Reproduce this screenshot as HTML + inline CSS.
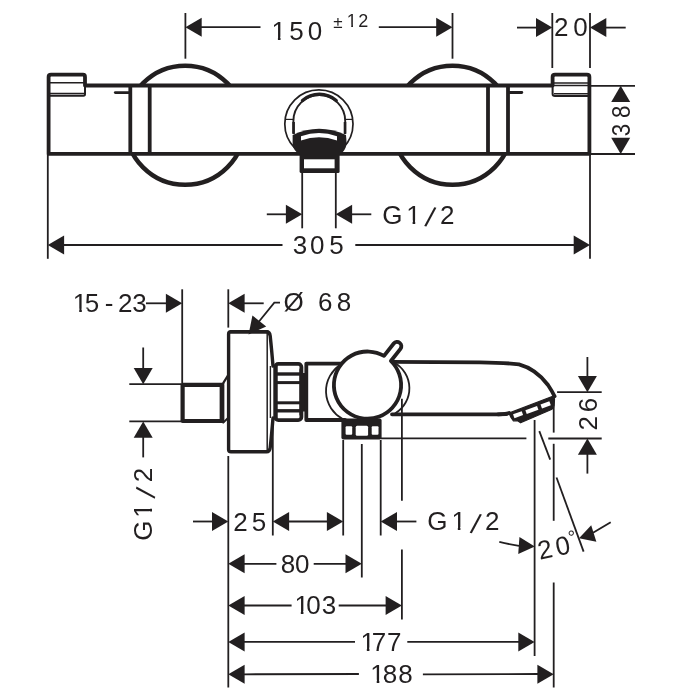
<!DOCTYPE html>
<html lang="en">
<head>
<meta charset="utf-8">
<title>Dimension drawing</title>
<style>
html,body{margin:0;padding:0;background:#fff;}
body{width:700px;height:700px;overflow:hidden;}
svg{display:block;will-change:transform;}
text{font-family:"Liberation Sans",sans-serif;fill:#221f20;}
</style>
</head>
<body>
<svg width="700" height="700" viewBox="0 0 700 700">
<rect width="700" height="700" fill="#fff"/>
<circle cx="185.2" cy="125.25" r="59.6" fill="none" stroke="#221f20" stroke-width="4.5"/>
<circle cx="452.5" cy="125.25" r="59.6" fill="none" stroke="#221f20" stroke-width="4.5"/>
<path d="M48.6,153.9 L48.6,77 Q48.6,74.7 51,74.7 L83,74.7 Q85,74.7 85,77 L85,85.5 L552.6,85.5 L552.6,77 Q552.6,74.7 555,74.7 L587,74.7 Q589.4,74.7 589.4,77 L589.4,153.9 Z" fill="#fff" stroke="#221f20" stroke-width="3.8" stroke-linejoin="round"/>
<line x1="50" y1="82.7" x2="85" y2="82.7" stroke="#221f20" stroke-width="1.5" stroke-linecap="butt"/>
<line x1="50" y1="93.6" x2="84" y2="93.6" stroke="#221f20" stroke-width="1.5" stroke-linecap="butt"/>
<path d="M50,95.8 L83.5,95.8 Q85,95.8 85,94 L85,86" fill="none" stroke="#221f20" stroke-width="2" stroke-linejoin="round" stroke-linecap="round"/>
<line x1="553" y1="83" x2="589" y2="83" stroke="#221f20" stroke-width="1.5" stroke-linecap="butt"/>
<line x1="553" y1="85.6" x2="589" y2="85.6" stroke="#221f20" stroke-width="1.5" stroke-linecap="butt"/>
<line x1="554" y1="93.8" x2="589" y2="93.8" stroke="#221f20" stroke-width="1.5" stroke-linecap="butt"/>
<path d="M552.6,86 L552.6,94 Q552.6,96 555,96 L589,96" fill="none" stroke="#221f20" stroke-width="2" stroke-linejoin="round" stroke-linecap="round"/>
<line x1="130.3" y1="85.5" x2="130.3" y2="153.9" stroke="#221f20" stroke-width="3.8" stroke-linecap="butt"/>
<line x1="149.7" y1="85.5" x2="149.7" y2="153.9" stroke="#221f20" stroke-width="3.8" stroke-linecap="butt"/>
<line x1="488" y1="85.5" x2="488" y2="153.9" stroke="#221f20" stroke-width="3.8" stroke-linecap="butt"/>
<line x1="508" y1="85.5" x2="508" y2="153.9" stroke="#221f20" stroke-width="3.8" stroke-linecap="butt"/>
<line x1="115.3" y1="92.6" x2="129" y2="92.6" stroke="#221f20" stroke-width="2.8" stroke-linecap="round"/>
<line x1="509.5" y1="92.5" x2="521.8" y2="92.5" stroke="#221f20" stroke-width="2.8" stroke-linecap="round"/>
<circle cx="318.9" cy="124" r="34.1" fill="none" stroke="#221f20" stroke-width="1.7"/>
<path d="M293.4,133 L293.4,121 A25.9,25.9 0 0 1 345.2,121 L345.2,133" fill="none" stroke="#221f20" stroke-width="1.9" stroke-linejoin="round" stroke-linecap="butt"/>
<path d="M302.5,100.5 A26,26 0 0 1 336.2,100.5" fill="none" stroke="#221f20" stroke-width="3.4" stroke-linejoin="round" stroke-linecap="round"/>
<line x1="293.6" y1="122" x2="293.6" y2="134" stroke="#221f20" stroke-width="2.6" stroke-linecap="butt"/>
<line x1="345" y1="122" x2="345" y2="134" stroke="#221f20" stroke-width="2.6" stroke-linecap="butt"/>
<line x1="285" y1="119.4" x2="293" y2="119.4" stroke="#221f20" stroke-width="1.2" stroke-linecap="butt"/>
<line x1="345.5" y1="119.4" x2="353" y2="119.4" stroke="#221f20" stroke-width="1.2" stroke-linecap="butt"/>
<path d="M292.6,135 Q319,122.5 346,135 L346.6,143 Q346,150.5 339.5,155 L300,155 Q293,150.5 292.6,143 Z" fill="#221f20"/>
<path d="M301,136.3 Q319,129.8 337,136.3 L337,140.6 Q319,134 301,140.6 Z" fill="#fff"/>
<rect x="299.6" y="154" width="40" height="19" rx="1.5" fill="#221f20"/>
<rect x="304" y="159.3" width="30.6" height="9" fill="#fff"/>
<line x1="185.4" y1="13" x2="185.4" y2="58.7" stroke="#221f20" stroke-width="1.8" stroke-linecap="butt"/>
<line x1="452.5" y1="13" x2="452.5" y2="58.7" stroke="#221f20" stroke-width="1.8" stroke-linecap="butt"/>
<polygon points="0,0 -16.3,-9.5 -16.3,9.5" fill="#221f20" transform="translate(185.4 27.2) rotate(180)"/>
<line x1="201" y1="27.2" x2="260.5" y2="27.2" stroke="#221f20" stroke-width="1.8" stroke-linecap="butt"/>
<polygon points="0,0 -16.3,-9.5 -16.3,9.5" fill="#221f20" transform="translate(452.5 27.2) rotate(0)"/>
<line x1="378.8" y1="27.2" x2="437" y2="27.2" stroke="#221f20" stroke-width="1.8" stroke-linecap="butt"/>
<clipPath id="c1"><rect x="-2000" y="-2000" width="4000" height="2036.75"/><rect x="-2000" y="36.25" width="2271.03" height="40"/><rect x="277.92" y="36.25" width="2.6" height="40"/><rect x="286.11" y="36.25" width="1713.89" height="40"/></clipPath>
<text x="271.55 289.3 307.67" y="40" font-size="26.0" clip-path="url(#c1)">150</text>
<clipPath id="c2"><rect x="-2000" y="-2000" width="4000" height="2024.75"/><rect x="-2000" y="24.25" width="2346.44" height="40"/><rect x="351.21" y="24.25" width="1.8" height="40"/><rect x="356.88" y="24.25" width="1643.12" height="40"/></clipPath>
<text x="333.18 346.8 358.36" y="28 27.4 27.4" font-size="18" clip-path="url(#c2)"><tspan font-size="17">±</tspan>12</text>
<line x1="552.3" y1="13" x2="552.3" y2="68" stroke="#221f20" stroke-width="1.8" stroke-linecap="butt"/>
<line x1="590" y1="13" x2="590" y2="68" stroke="#221f20" stroke-width="1.8" stroke-linecap="butt"/>
<polygon points="0,0 -16.3,-9.5 -16.3,9.5" fill="#221f20" transform="translate(552.3 27.6) rotate(0)"/>
<line x1="517" y1="27.6" x2="537" y2="27.6" stroke="#221f20" stroke-width="1.8" stroke-linecap="butt"/>
<polygon points="0,0 -16.3,-9.5 -16.3,9.5" fill="#221f20" transform="translate(590 27.6) rotate(180)"/>
<line x1="605.5" y1="27.6" x2="625.7" y2="27.6" stroke="#221f20" stroke-width="1.8" stroke-linecap="butt"/>
<text x="554.02 573.22" y="35.8" font-size="26.0">20</text>
<line x1="590" y1="85.8" x2="635" y2="85.8" stroke="#221f20" stroke-width="1.8" stroke-linecap="butt"/>
<line x1="590" y1="154" x2="635" y2="154" stroke="#221f20" stroke-width="1.8" stroke-linecap="butt"/>
<polygon points="0,0 -16.3,-9.5 -16.3,9.5" fill="#221f20" transform="translate(620.7 85.8) rotate(-90)"/>
<polygon points="0,0 -16.3,-9.5 -16.3,9.5" fill="#221f20" transform="translate(620.7 154) rotate(90)"/>
<text transform="translate(630.2 0) rotate(-90) scale(0.86 1)" x="-158.55 -137.15" y="0" font-size="26.0">38</text>
<line x1="47.8" y1="154" x2="47.8" y2="258.8" stroke="#221f20" stroke-width="1.8" stroke-linecap="butt"/>
<line x1="590" y1="154" x2="590" y2="258.8" stroke="#221f20" stroke-width="1.8" stroke-linecap="butt"/>
<polygon points="0,0 -16.3,-9.5 -16.3,9.5" fill="#221f20" transform="translate(47.8 245) rotate(180)"/>
<line x1="63" y1="245" x2="282.5" y2="245" stroke="#221f20" stroke-width="1.8" stroke-linecap="butt"/>
<polygon points="0,0 -16.3,-9.5 -16.3,9.5" fill="#221f20" transform="translate(590 245) rotate(0)"/>
<line x1="355.3" y1="245" x2="575" y2="245" stroke="#221f20" stroke-width="1.8" stroke-linecap="butt"/>
<text x="292.85 310.02 329.35" y="254" font-size="26.0">305</text>
<line x1="302.2" y1="172" x2="302.2" y2="228.3" stroke="#221f20" stroke-width="1.8" stroke-linecap="butt"/>
<line x1="335.8" y1="172" x2="335.8" y2="228.3" stroke="#221f20" stroke-width="1.8" stroke-linecap="butt"/>
<polygon points="0,0 -16.3,-9.5 -16.3,9.5" fill="#221f20" transform="translate(302.2 214.3) rotate(0)"/>
<line x1="266.8" y1="214.3" x2="287" y2="214.3" stroke="#221f20" stroke-width="1.8" stroke-linecap="butt"/>
<polygon points="0,0 -16.3,-9.5 -16.3,9.5" fill="#221f20" transform="translate(335.8 214.3) rotate(180)"/>
<line x1="351" y1="214.3" x2="371.3" y2="214.3" stroke="#221f20" stroke-width="1.8" stroke-linecap="butt"/>
<clipPath id="c3"><rect x="-2000" y="-2000" width="4000" height="2220.25"/><rect x="-2000" y="219.75" width="2405.73" height="40"/><rect x="412.62" y="219.75" width="2.6" height="40"/><rect x="420.81" y="219.75" width="1579.19" height="40"/></clipPath>
<text x="382.25 406.25 424.15 439.92" y="223.5 223.5 225.7 223.5" font-size="26.0" clip-path="url(#c3)">G1<tspan rotate="13" font-size="28">/</tspan>2</text>
<path d="M222,384.8 L182.6,384.8 L182.6,421 L222,421 Z" fill="#fff" stroke="#221f20" stroke-width="4.2" stroke-linejoin="round" stroke-linecap="round"/>
<line x1="222" y1="383" x2="222" y2="423" stroke="#221f20" stroke-width="4.6" stroke-linecap="butt"/>
<path d="M223.2,383.2 L228.2,375.2" fill="none" stroke="#221f20" stroke-width="2.2" stroke-linejoin="round" stroke-linecap="round"/>
<path d="M223.2,422.6 L227.5,418.5" fill="none" stroke="#221f20" stroke-width="2" stroke-linejoin="round" stroke-linecap="round"/>
<rect x="229" y="332" width="40" height="119.6" fill="#fff"/>
<path d="M273,366 Q271.6,349 270.2,336 Q269.8,331.8 266.5,331.8 L231,331.8 Q228.6,331.8 228.6,334 L228.6,449.5 Q228.6,451.8 231,451.8 L266.5,451.8 Q269.8,451.8 270.2,447.6 Q271.6,435 273,418" fill="none" stroke="#221f20" stroke-width="3.4" stroke-linejoin="round" stroke-linecap="round"/>
<line x1="267.2" y1="333" x2="267.2" y2="450.5" stroke="#221f20" stroke-width="1.5" stroke-linecap="butt"/>
<line x1="270.4" y1="366" x2="270.4" y2="418" stroke="#221f20" stroke-width="1.4" stroke-linecap="butt"/>
<rect x="275.2" y="363.8" width="26.2" height="56.4" rx="3.2" fill="#fff" stroke="#221f20" stroke-width="3.8"/>
<line x1="276.5" y1="374" x2="300.5" y2="374" stroke="#221f20" stroke-width="3.4" stroke-linecap="butt"/>
<line x1="276.5" y1="382.6" x2="300.5" y2="382.6" stroke="#221f20" stroke-width="3" stroke-linecap="butt"/>
<line x1="276.5" y1="402.8" x2="300.5" y2="402.8" stroke="#221f20" stroke-width="3" stroke-linecap="butt"/>
<line x1="276.5" y1="410.8" x2="300.5" y2="410.8" stroke="#221f20" stroke-width="3.4" stroke-linecap="butt"/>
<line x1="276" y1="366" x2="276" y2="418" stroke="#221f20" stroke-width="3.4" stroke-linecap="butt"/>
<path d="M299.4,368 Q300.4,372 301.6,373 L305,373 L305,411.5 L301.6,411.5 Q300.4,412.5 299.4,416 Z" fill="#221f20"/>
<path d="M343,363.6 L306.3,363.6 L306.3,420 L345,420" fill="none" stroke="#221f20" stroke-width="3.8" stroke-linejoin="round" stroke-linecap="round"/>
<path d="M391,361.8 L480,362.3 Q503,362.5 519,364.4 Q536,369 548,385 Q552,391 554.6,396.3" fill="none" stroke="#221f20" stroke-width="3.8" stroke-linejoin="round" stroke-linecap="round"/>
<path d="M392,414.3 L498,414.3 Q503,414.3 507,413.6" fill="none" stroke="#221f20" stroke-width="3.8" stroke-linejoin="round" stroke-linecap="round"/>
<path d="M340,365 A31.4,31.4 0 0 0 342,418.5" fill="none" stroke="#221f20" stroke-width="1.8" stroke-linejoin="round" stroke-linecap="round"/>
<path d="M394,362.5 A29.3,29.3 0 0 1 395,413.5" fill="none" stroke="#221f20" stroke-width="1.8" stroke-linejoin="round" stroke-linecap="round"/>
<path d="M390.9,360.99 A33.6,33.6 0 1 1 384.01,355.84 L393.73,343.53 A4.3,4.3 0 0 1 400.47,348.87 Z" fill="#fff" stroke="#221f20" stroke-width="3.8" stroke-linejoin="round" stroke-linecap="round"/>
<rect x="341.4" y="418.6" width="40.2" height="20.8" rx="2" fill="#221f20"/>
<rect x="345.6" y="426.2" width="6.6" height="8.6" rx="1" fill="#fff"/>
<rect x="355.7" y="425.8" width="12.4" height="10" rx="1.5" fill="#fff"/>
<rect x="371.7" y="426.2" width="6.8" height="8.6" rx="1" fill="#fff"/>
<path d="M508,413.4 L553.4,396 L554.5,399 L554.2,406.3 L552,409.2 L520.6,422.8 L518,421 L513.4,420.8 L511,417.4 L509.4,414 Z" fill="#221f20" stroke="#221f20" stroke-width="1.2" stroke-linejoin="round"/>
<g transform="translate(505.7 414) rotate(-19.9)" fill="#fff"><rect x="6.8" y="2.8" width="9.2" height="4.1"/><rect x="19.8" y="3.1" width="12.4" height="4.1"/><rect x="36" y="2.8" width="9.4" height="4.4"/></g>
<path d="M498,414.3 L505.7,414.2 L509,413" fill="none" stroke="#221f20" stroke-width="3.8" stroke-linejoin="round" stroke-linecap="round"/>
<line x1="182.2" y1="289.3" x2="182.2" y2="383" stroke="#221f20" stroke-width="1.8" stroke-linecap="butt"/>
<line x1="228.3" y1="289.3" x2="228.3" y2="327.6" stroke="#221f20" stroke-width="1.8" stroke-linecap="butt"/>
<clipPath id="c4"><rect x="-2000" y="-2000" width="4000" height="2308.45"/><rect x="-2000" y="307.95" width="2072.33" height="40"/><rect x="79.22" y="307.95" width="2.6" height="40"/><rect x="87.41" y="307.95" width="1912.59" height="40"/></clipPath>
<text x="72.85 84.65 100 104.71 114 117.92 132.15" y="311.7" font-size="26.0" clip-path="url(#c4)">15 - 23</text>
<polygon points="0,0 -16.3,-9.5 -16.3,9.5" fill="#221f20" transform="translate(182.2 303.3) rotate(0)"/>
<line x1="146" y1="303.3" x2="167" y2="303.3" stroke="#221f20" stroke-width="1.8" stroke-linecap="butt"/>
<polygon points="0,0 -16.3,-9.5 -16.3,9.5" fill="#221f20" transform="translate(228.3 303.3) rotate(180)"/>
<line x1="243.5" y1="303.3" x2="263.7" y2="303.3" stroke="#221f20" stroke-width="1.8" stroke-linecap="butt"/>
<path d="M280,302.6 L274.3,302.6 L258.8,321.7" fill="none" stroke="#221f20" stroke-width="1.8" stroke-linejoin="miter" stroke-linecap="butt"/>
<polygon points="0,0 -17.2,-8.8 -17.2,8.8" fill="#221f20" transform="translate(248.6 334.4) rotate(128.5)"/>
<text x="283.56 309 317.92 336.85" y="311.3" font-size="26.0">Ø 68</text>
<path d="M231,331.8 L267,331.8" fill="none" stroke="#221f20" stroke-width="3.4" stroke-linejoin="round" stroke-linecap="round"/>
<line x1="129.3" y1="384.2" x2="181" y2="384.2" stroke="#221f20" stroke-width="1.8" stroke-linecap="butt"/>
<line x1="129.3" y1="421.4" x2="181" y2="421.4" stroke="#221f20" stroke-width="1.8" stroke-linecap="butt"/>
<polygon points="0,0 -16.3,-9.5 -16.3,9.5" fill="#221f20" transform="translate(143.2 384.2) rotate(90)"/>
<line x1="143.2" y1="347.5" x2="143.2" y2="369" stroke="#221f20" stroke-width="1.8" stroke-linecap="butt"/>
<polygon points="0,0 -16.3,-9.5 -16.3,9.5" fill="#221f20" transform="translate(143.2 421.4) rotate(-90)"/>
<line x1="143.2" y1="437" x2="143.2" y2="457.4" stroke="#221f20" stroke-width="1.8" stroke-linecap="butt"/>
<clipPath id="c5"><rect x="-2000" y="-2000" width="4000" height="1996.75"/><rect x="-2000" y="-3.75" width="1481.73" height="40"/><rect x="-511.38" y="-3.75" width="2.6" height="40"/><rect x="-503.19" y="-3.75" width="2503.19" height="40"/></clipPath>
<text transform="translate(152.4 0) rotate(-90)" x="-540.65 -517.75 -498.7 -482.28" y="0 0 2.2 0" font-size="26.0" clip-path="url(#c5)">G1<tspan rotate="13" font-size="28">/</tspan>2</text>
<line x1="557.1" y1="392.2" x2="601.7" y2="392.2" stroke="#221f20" stroke-width="1.8" stroke-linecap="butt"/>
<line x1="548.3" y1="438.5" x2="601.7" y2="438.5" stroke="#221f20" stroke-width="1.8" stroke-linecap="butt"/>
<line x1="381" y1="438.4" x2="526.4" y2="438.4" stroke="#221f20" stroke-width="1.8" stroke-linecap="butt"/>
<polygon points="0,0 -16.3,-9.5 -16.3,9.5" fill="#221f20" transform="translate(587.4 392.2) rotate(90)"/>
<line x1="587.4" y1="357" x2="587.4" y2="377.5" stroke="#221f20" stroke-width="1.8" stroke-linecap="butt"/>
<polygon points="0,0 -16.3,-9.5 -16.3,9.5" fill="#221f20" transform="translate(587.4 438.5) rotate(-90)"/>
<line x1="587.4" y1="454" x2="587.4" y2="473.6" stroke="#221f20" stroke-width="1.8" stroke-linecap="butt"/>
<text transform="translate(596.6 0) rotate(-90)" x="-430.58 -412.28" y="0" font-size="26.0">26</text>
<line x1="228.3" y1="456" x2="228.3" y2="687.5" stroke="#221f20" stroke-width="1.8" stroke-linecap="butt"/>
<line x1="272.8" y1="422.5" x2="272.8" y2="535.5" stroke="#221f20" stroke-width="1.8" stroke-linecap="butt"/>
<line x1="343.2" y1="440" x2="343.2" y2="535.5" stroke="#221f20" stroke-width="1.8" stroke-linecap="butt"/>
<line x1="361.8" y1="444" x2="361.8" y2="577.5" stroke="#221f20" stroke-width="1.8" stroke-linecap="butt"/>
<line x1="380.7" y1="440" x2="380.7" y2="535.5" stroke="#221f20" stroke-width="1.8" stroke-linecap="butt"/>
<line x1="401.9" y1="398.7" x2="401.9" y2="500.8" stroke="#221f20" stroke-width="1.8" stroke-linecap="butt"/>
<line x1="401.9" y1="549.5" x2="401.9" y2="619.4" stroke="#221f20" stroke-width="1.8" stroke-linecap="butt"/>
<line x1="534.6" y1="420" x2="534.6" y2="656" stroke="#221f20" stroke-width="1.8" stroke-linecap="butt"/>
<line x1="553.7" y1="407" x2="553.7" y2="432.6" stroke="#221f20" stroke-width="1.8" stroke-linecap="butt"/>
<line x1="553.7" y1="443.8" x2="553.7" y2="520.8" stroke="#221f20" stroke-width="1.8" stroke-linecap="butt"/>
<line x1="553.7" y1="582.5" x2="553.7" y2="687.5" stroke="#221f20" stroke-width="1.8" stroke-linecap="butt"/>
<line x1="539.3" y1="431.1" x2="550.2" y2="459.6" stroke="#221f20" stroke-width="1.8" stroke-linecap="butt"/>
<line x1="556.5" y1="477.5" x2="583.6" y2="551.6" stroke="#221f20" stroke-width="1.8" stroke-linecap="butt"/>
<path d="M499.3,541.8 Q509,544.3 519,545.8" fill="none" stroke="#221f20" stroke-width="1.8" stroke-linejoin="round" stroke-linecap="butt"/>
<polygon points="0,0 -16,-8.6 -16,8.6" fill="#221f20" transform="translate(534.8 546.6) rotate(4)"/>
<line x1="610.7" y1="522.3" x2="593" y2="532.8" stroke="#221f20" stroke-width="1.8" stroke-linecap="butt"/>
<polygon points="0,0 -15.5,-8.6 -15.5,8.6" fill="#221f20" transform="translate(579 538.2) rotate(162.6)"/>
<text transform="translate(545 549.2) rotate(-12)" x="-7.28 10.82 25.2" y="9.2 9.2 0.2" font-size="26.0">20<tspan font-size="19">°</tspan></text>
<polygon points="0,0 -16.3,-9.5 -16.3,9.5" fill="#221f20" transform="translate(228.3 521.5) rotate(0)"/>
<line x1="193" y1="521.5" x2="213" y2="521.5" stroke="#221f20" stroke-width="1.8" stroke-linecap="butt"/>
<text x="233.22 251.65" y="530.7" font-size="26.0">25</text>
<polygon points="0,0 -16.3,-9.5 -16.3,9.5" fill="#221f20" transform="translate(272.8 521.5) rotate(180)"/>
<line x1="288" y1="521.5" x2="328" y2="521.5" stroke="#221f20" stroke-width="1.8" stroke-linecap="butt"/>
<polygon points="0,0 -16.3,-9.5 -16.3,9.5" fill="#221f20" transform="translate(343.2 521.5) rotate(0)"/>
<polygon points="0,0 -16.3,-9.5 -16.3,9.5" fill="#221f20" transform="translate(380.7 521.5) rotate(180)"/>
<line x1="396" y1="521.5" x2="416.4" y2="521.5" stroke="#221f20" stroke-width="1.8" stroke-linecap="butt"/>
<clipPath id="c6"><rect x="-2000" y="-2000" width="4000" height="2526.95"/><rect x="-2000" y="526.45" width="2450.93" height="40"/><rect x="457.82" y="526.45" width="2.6" height="40"/><rect x="466.01" y="526.45" width="1533.99" height="40"/></clipPath>
<text x="427.35 451.45 469.8 485.02" y="530.2 530.2 532.4 530.2" font-size="26.0" clip-path="url(#c6)">G1<tspan rotate="13" font-size="28">/</tspan>2</text>
<polygon points="0,0 -16.3,-9.5 -16.3,9.5" fill="#221f20" transform="translate(228.3 563.8) rotate(180)"/>
<line x1="244" y1="563.8" x2="276.4" y2="563.8" stroke="#221f20" stroke-width="1.8" stroke-linecap="butt"/>
<text x="280.75 295.12" y="572.5" font-size="26.0">80</text>
<line x1="313.7" y1="563.8" x2="347" y2="563.8" stroke="#221f20" stroke-width="1.8" stroke-linecap="butt"/>
<polygon points="0,0 -16.3,-9.5 -16.3,9.5" fill="#221f20" transform="translate(361.8 563.8) rotate(0)"/>
<polygon points="0,0 -16.3,-9.5 -16.3,9.5" fill="#221f20" transform="translate(228.3 605.5) rotate(180)"/>
<line x1="244" y1="605.5" x2="291.6" y2="605.5" stroke="#221f20" stroke-width="1.8" stroke-linecap="butt"/>
<clipPath id="c7"><rect x="-2000" y="-2000" width="4000" height="2611.05"/><rect x="-2000" y="610.55" width="2293.93" height="40"/><rect x="300.82" y="610.55" width="2.6" height="40"/><rect x="309.01" y="610.55" width="1690.99" height="40"/></clipPath>
<text x="294.45 306.22 321.85" y="614.3" font-size="26.0" clip-path="url(#c7)">103</text>
<line x1="338.7" y1="605.5" x2="387" y2="605.5" stroke="#221f20" stroke-width="1.8" stroke-linecap="butt"/>
<polygon points="0,0 -16.3,-9.5 -16.3,9.5" fill="#221f20" transform="translate(401.9 605.5) rotate(0)"/>
<polygon points="0,0 -16.3,-9.5 -16.3,9.5" fill="#221f20" transform="translate(228.3 641.9) rotate(180)"/>
<line x1="244" y1="641.9" x2="355" y2="641.9" stroke="#221f20" stroke-width="1.8" stroke-linecap="butt"/>
<clipPath id="c8"><rect x="-2000" y="-2000" width="4000" height="2647.55"/><rect x="-2000" y="647.05" width="2359.93" height="40"/><rect x="366.82" y="647.05" width="2.6" height="40"/><rect x="375.01" y="647.05" width="1624.99" height="40"/></clipPath>
<text x="360.45 371.82 386.92" y="650.8" font-size="26.0" clip-path="url(#c8)">177</text>
<line x1="407.3" y1="641.9" x2="520" y2="641.9" stroke="#221f20" stroke-width="1.8" stroke-linecap="butt"/>
<polygon points="0,0 -16.3,-9.5 -16.3,9.5" fill="#221f20" transform="translate(534.6 641.9) rotate(0)"/>
<polygon points="0,0 -16.3,-9.5 -16.3,9.5" fill="#221f20" transform="translate(228.3 674.3) rotate(180)"/>
<line x1="244" y1="674.3" x2="358.9" y2="674" stroke="#221f20" stroke-width="1.8" stroke-linecap="butt"/>
<clipPath id="c9"><rect x="-2000" y="-2000" width="4000" height="2679.65"/><rect x="-2000" y="679.15" width="2369.83" height="40"/><rect x="376.72" y="679.15" width="2.6" height="40"/><rect x="384.91" y="679.15" width="1615.09" height="40"/></clipPath>
<text x="370.35 382.85 398.15" y="682.9" font-size="26.0" clip-path="url(#c9)">188</text>
<line x1="422.9" y1="674.3" x2="538" y2="674" stroke="#221f20" stroke-width="1.8" stroke-linecap="butt"/>
<polygon points="0,0 -16.3,-9.5 -16.3,9.5" fill="#221f20" transform="translate(553.7 674.3) rotate(0)"/>
</svg>
</body>
</html>
